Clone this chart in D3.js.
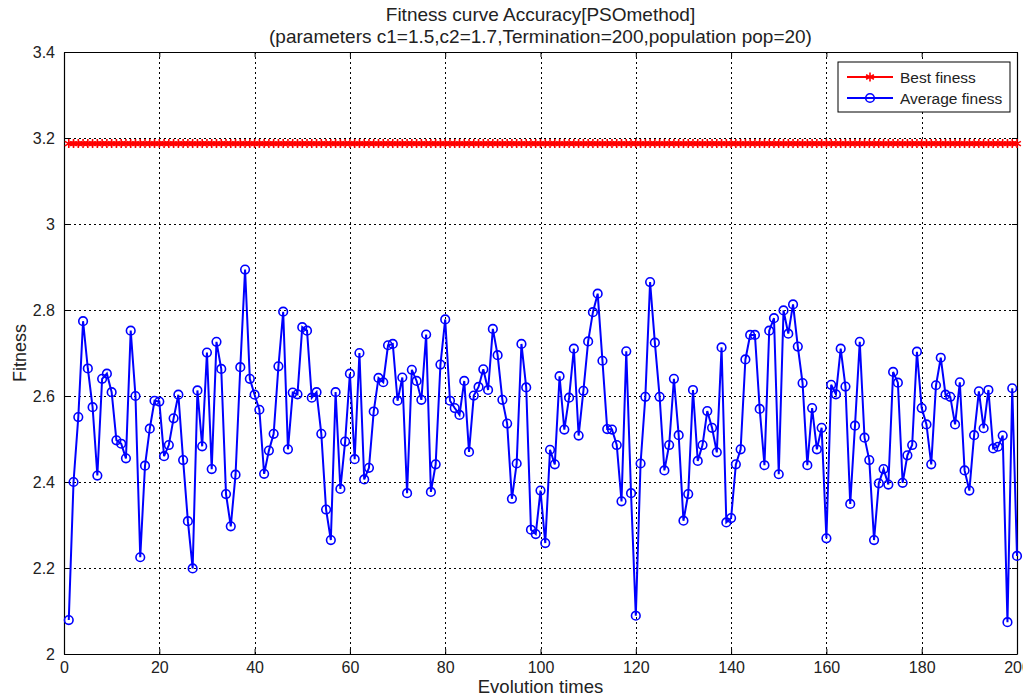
<!DOCTYPE html>
<html>
<head>
<meta charset="utf-8">
<script src="https://cdn.jsdelivr.net/npm/d3@7"></script>
<style>
  html, body { margin: 0; padding: 0; background: #fff; }
  svg { display: block; font-family: "Liberation Sans", Arial, sans-serif; }
</style>
</head>
<body>
<svg id="chart" width="1023" height="696"></svg>
<script>
// Evolution step numbers
const generations = d3.range(1, 201);

// Best fitness per generation (flat across the run)
const bestFitness = [
  3.187,3.187,3.187,3.187,3.187,3.187,3.187,3.187,3.187,3.187,
  3.187,3.187,3.187,3.187,3.187,3.187,3.187,3.187,3.187,3.187,
  3.187,3.187,3.187,3.187,3.187,3.187,3.187,3.187,3.187,3.187,
  3.187,3.187,3.187,3.187,3.187,3.187,3.187,3.187,3.187,3.187,
  3.187,3.187,3.187,3.187,3.187,3.187,3.187,3.187,3.187,3.187,
  3.187,3.187,3.187,3.187,3.187,3.187,3.187,3.187,3.187,3.187,
  3.187,3.187,3.187,3.187,3.187,3.187,3.187,3.187,3.187,3.187,
  3.187,3.187,3.187,3.187,3.187,3.187,3.187,3.187,3.187,3.187,
  3.187,3.187,3.187,3.187,3.187,3.187,3.187,3.187,3.187,3.187,
  3.187,3.187,3.187,3.187,3.187,3.187,3.187,3.187,3.187,3.187,
  3.187,3.187,3.187,3.187,3.187,3.187,3.187,3.187,3.187,3.187,
  3.187,3.187,3.187,3.187,3.187,3.187,3.187,3.187,3.187,3.187,
  3.187,3.187,3.187,3.187,3.187,3.187,3.187,3.187,3.187,3.187,
  3.187,3.187,3.187,3.187,3.187,3.187,3.187,3.187,3.187,3.187,
  3.187,3.187,3.187,3.187,3.187,3.187,3.187,3.187,3.187,3.187,
  3.187,3.187,3.187,3.187,3.187,3.187,3.187,3.187,3.187,3.187,
  3.187,3.187,3.187,3.187,3.187,3.187,3.187,3.187,3.187,3.187,
  3.187,3.187,3.187,3.187,3.187,3.187,3.187,3.187,3.187,3.187,
  3.187,3.187,3.187,3.187,3.187,3.187,3.187,3.187,3.187,3.187,
  3.187,3.187,3.187,3.187,3.187,3.187,3.187,3.187,3.187,3.187
];

// Average fitness per generation
const averageFitness = [
  2.079,2.400,2.551,2.774,2.664,2.574,2.415,2.640,2.652,2.609,
  2.497,2.489,2.455,2.752,2.600,2.225,2.438,2.524,2.589,2.587,
  2.460,2.486,2.548,2.603,2.451,2.309,2.199,2.613,2.483,2.701,
  2.430,2.726,2.663,2.372,2.297,2.417,2.667,2.894,2.640,2.603,
  2.568,2.419,2.473,2.512,2.669,2.796,2.476,2.608,2.604,2.760,
  2.752,2.596,2.609,2.512,2.336,2.265,2.609,2.384,2.494,2.652,
  2.453,2.700,2.406,2.433,2.564,2.642,2.632,2.718,2.721,2.589,
  2.643,2.374,2.661,2.635,2.591,2.743,2.377,2.441,2.673,2.778,
  2.589,2.572,2.556,2.635,2.470,2.601,2.621,2.662,2.614,2.756,
  2.695,2.591,2.536,2.361,2.443,2.721,2.620,2.289,2.279,2.380,
  2.258,2.475,2.441,2.646,2.522,2.596,2.710,2.508,2.612,2.727,
  2.795,2.838,2.682,2.523,2.522,2.486,2.355,2.704,2.374,2.089,
  2.443,2.598,2.865,2.724,2.598,2.427,2.486,2.640,2.509,2.310,
  2.372,2.614,2.449,2.486,2.565,2.526,2.469,2.713,2.306,2.316,
  2.441,2.476,2.685,2.742,2.742,2.570,2.439,2.752,2.781,2.418,
  2.799,2.745,2.813,2.715,2.630,2.439,2.572,2.476,2.526,2.269,
  2.626,2.604,2.710,2.622,2.349,2.531,2.726,2.503,2.451,2.265,
  2.397,2.430,2.394,2.656,2.631,2.398,2.462,2.486,2.703,2.572,
  2.534,2.441,2.625,2.689,2.603,2.598,2.534,2.632,2.427,2.380,
  2.509,2.611,2.525,2.614,2.478,2.482,2.508,2.074,2.618,2.228
];

const xTicks = [0, 20, 40, 60, 80, 100, 120, 140, 160, 180, 200];
const yTicks = [2, 2.2, 2.4, 2.6, 2.8, 3, 3.2, 3.4];
const titleLines = [
  "Fitness curve Accuracy[PSOmethod]",
  "(parameters c1=1.5,c2=1.7,Termination=200,population pop=20)"
];
const seriesNames = ["Best finess", "Average finess"];

const svg = d3.select("#chart");
const plot = { left: 64, right: 1017, top: 52, bottom: 654 };

const x = d3.scaleLinear().domain([0, 200]).range([plot.left, plot.right]);
const y = d3.scaleLinear().domain([2, 3.4]).range([plot.bottom, plot.top]);

// dotted grid
const grid = svg.append("g").attr("stroke", "#000").attr("stroke-width", 1)
  .attr("stroke-dasharray", "2,3").attr("shape-rendering", "crispEdges");
grid.selectAll(".gx").data(xTicks.slice(1, -1)).join("line")
  .attr("x1", d => Math.round(x(d)) + 0.5).attr("x2", d => Math.round(x(d)) + 0.5)
  .attr("y1", plot.top).attr("y2", plot.bottom);
grid.selectAll(".gy").data(yTicks.slice(1, -1)).join("line")
  .attr("y1", d => Math.round(y(d)) + 0.5).attr("y2", d => Math.round(y(d)) + 0.5)
  .attr("x1", plot.left).attr("x2", plot.right);

// axes with inward ticks
const xAxis = d3.axisBottom(x).tickValues(xTicks).tickSizeInner(-5).tickSizeOuter(0).tickPadding(8);
const yAxis = d3.axisLeft(y).tickValues(yTicks).tickSizeInner(-5).tickSizeOuter(0).tickPadding(9)
  .tickFormat(d3.format("~g"));

const gx = svg.append("g").attr("transform", `translate(0,${plot.bottom})`).call(xAxis);
const gy = svg.append("g").attr("transform", `translate(${plot.left},0)`).call(yAxis);
const gxTop = svg.append("g").attr("transform", `translate(0,${plot.top})`)
  .call(d3.axisTop(x).tickValues(xTicks).tickSizeInner(-5).tickSizeOuter(0).tickFormat(""));
const gyRight = svg.append("g").attr("transform", `translate(${plot.right},0)`)
  .call(d3.axisRight(y).tickValues(yTicks).tickSizeInner(-5).tickSizeOuter(0).tickFormat(""));

[gx, gy, gxTop, gyRight].forEach(g => {
  g.selectAll("path").attr("stroke", "#000").attr("stroke-width", 1.2);
  g.selectAll("line").attr("stroke", "#000");
  g.selectAll("text").attr("fill", "#222").style("font-size", "16px")
    .style("font-family", "'Liberation Sans', Arial, sans-serif");
});

// best fitness series
const lineGen = d3.line().x((d, i) => x(generations[i])).y(d => y(d));
svg.append("path").datum(bestFitness).attr("d", lineGen)
  .attr("fill", "none").attr("stroke", "#ff0000").attr("stroke-width", 2);

const star = r => {
  const a = r * 0.87, b = r * 0.5;
  return `M0,${-r}L0,${r}M${-a},${-b}L${a},${b}M${-a},${b}L${a},${-b}`;
};
svg.append("g").selectAll("path").data(bestFitness).join("path")
  .attr("transform", (d, i) => `translate(${x(generations[i])},${y(d)})`)
  .attr("d", star(4.5)).attr("stroke", "#ff0000").attr("stroke-width", 1.6).attr("fill", "none");

// average fitness series
svg.append("path").datum(averageFitness).attr("d", lineGen)
  .attr("fill", "none").attr("stroke", "#0000ff").attr("stroke-width", 2);
svg.append("g").selectAll("circle").data(averageFitness).join("circle")
  .attr("cx", (d, i) => x(generations[i])).attr("cy", d => y(d)).attr("r", 4.3)
  .attr("fill", "none").attr("stroke", "#0000ff").attr("stroke-width", 1.6);

// titles
svg.append("g").selectAll("text").data(titleLines).join("text")
  .attr("x", (plot.left + plot.right) / 2).attr("y", (d, i) => 21 + i * 22)
  .attr("text-anchor", "middle").attr("fill", "#222").style("font-size", "19px")
  .text(d => d);

svg.append("text").attr("x", (plot.left + plot.right) / 2).attr("y", 693)
  .attr("text-anchor", "middle").attr("fill", "#222").style("font-size", "18.5px")
  .text("Evolution times");
svg.append("text").attr("transform", `translate(26,${(plot.top + plot.bottom) / 2}) rotate(-90)`)
  .attr("text-anchor", "middle").attr("fill", "#222").style("font-size", "18px")
  .text("Fitness");

// legend
const lg = svg.append("g").attr("transform", "translate(838,62)");
lg.append("rect").attr("width", 172).attr("height", 50)
  .attr("fill", "#fff").attr("stroke", "#000").attr("stroke-width", 1);
const colors = ["#ff0000", "#0000ff"];
seriesNames.forEach((name, k) => {
  const ly = 15 + k * 21;
  lg.append("line").attr("x1", 9).attr("x2", 55).attr("y1", ly).attr("y2", ly)
    .attr("stroke", colors[k]).attr("stroke-width", 2);
  if (k === 0) {
    lg.append("path").attr("transform", `translate(32,${ly})`).attr("d", star(4.5))
      .attr("stroke", colors[k]).attr("stroke-width", 1.6);
  } else {
    lg.append("circle").attr("cx", 32).attr("cy", ly).attr("r", 4.3)
      .attr("fill", "none").attr("stroke", colors[k]).attr("stroke-width", 1.6);
  }
  lg.append("text").attr("x", 62).attr("y", ly + 5.5).attr("fill", "#222")
    .style("font-size", "15.5px").text(name);
});
</script>
</body>
</html>
